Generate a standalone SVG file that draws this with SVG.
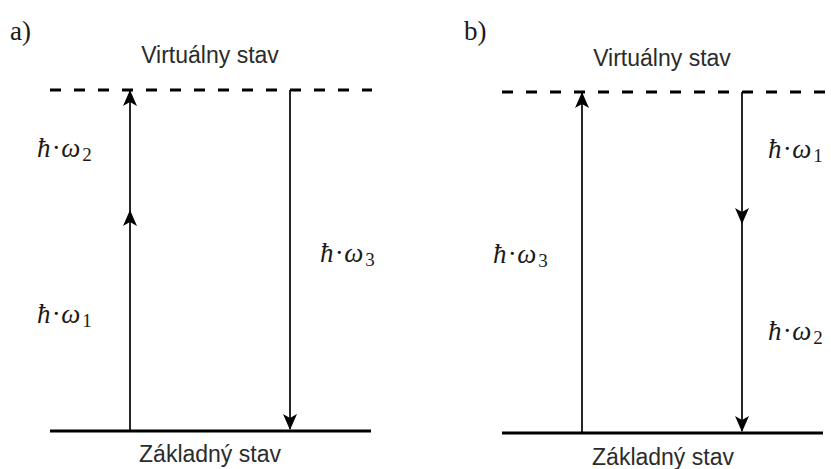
<svg xmlns="http://www.w3.org/2000/svg" width="831" height="469" viewBox="0 0 831 469">
<style>
.state{font-family:"Liberation Sans",Arial,sans-serif;font-size:23px;fill:#2b2b2b;text-anchor:middle}
.panel{font-family:"Liberation Serif","Times New Roman",serif;font-size:27px;fill:#1a1a1a}
.lbl{font-family:"Liberation Serif","Times New Roman",serif;font-size:27px;font-style:italic;fill:#1a1a1a;letter-spacing:2px}
.sub{font-size:19px;font-style:normal}
.dash{stroke:#000;stroke-width:3;stroke-dasharray:11 13;fill:none}
.ground{stroke:#000;stroke-width:3;fill:none}
.arr{stroke:#000;stroke-width:1.7;fill:none}
</style>
<defs>
<marker id="ah" viewBox="0 0 16 14" refX="15" refY="7" markerWidth="16" markerHeight="14" markerUnits="userSpaceOnUse" orient="auto">
<path d="M0,0 L16,7 L0,14 L4,7 Z" fill="#000"/>
</marker>
</defs>
<text class="panel" x="10" y="40">a)</text>
<text class="panel" x="464" y="40">b)</text>
<g id="levels-a">
<g id="virtual-a"><line class="dash" x1="50" y1="90" x2="372" y2="90"/><text class="state" x="210" y="63">Virtuálny stav</text></g>
<g id="ground-a"><line class="ground" x1="50" y1="431" x2="371" y2="431"/><text class="state" x="210" y="462">Základný stav</text></g>
</g>
<g id="levels-b">
<g id="virtual-b"><line class="dash" x1="502" y1="92" x2="830" y2="92"/><text class="state" x="662" y="66">Virtuálny stav</text></g>
<g id="ground-b"><line class="ground" x1="502" y1="433" x2="823" y2="433"/><text class="state" x="663" y="465">Základný stav</text></g>
</g>
<g id="connectors">
<line class="arr" x1="130" y1="431" x2="130" y2="211" marker-end="url(#ah)"/>
<line class="arr" x1="130" y1="211" x2="130" y2="91" marker-end="url(#ah)"/>
<line class="arr" x1="290" y1="90" x2="290" y2="429" marker-end="url(#ah)"/>
<line class="arr" x1="582" y1="433" x2="582" y2="93" marker-end="url(#ah)"/>
<line class="arr" x1="742" y1="92" x2="742" y2="223" marker-end="url(#ah)"/>
<line class="arr" x1="742" y1="223" x2="742" y2="431" marker-end="url(#ah)"/>
</g>
<g id="labels">
<text class="lbl" x="37" y="157">ħ·ω<tspan class="sub" dy="4">2</tspan></text>
<text class="lbl" x="37" y="323">ħ·ω<tspan class="sub" dy="4">1</tspan></text>
<text class="lbl" x="320" y="262">ħ·ω<tspan class="sub" dy="4">3</tspan></text>
<text class="lbl" x="768" y="158">ħ·ω<tspan class="sub" dy="4">1</tspan></text>
<text class="lbl" x="493" y="263">ħ·ω<tspan class="sub" dy="4">3</tspan></text>
<text class="lbl" x="768" y="340">ħ·ω<tspan class="sub" dy="4">2</tspan></text>
</g>
</svg>
